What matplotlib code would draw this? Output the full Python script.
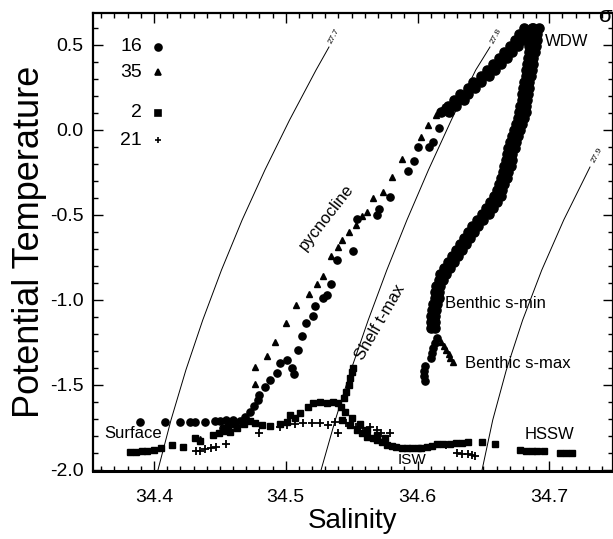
import matplotlib
matplotlib.use("Agg")
import matplotlib.pyplot as plt
from matplotlib.ticker import MultipleLocator, FormatStrFormatter

plt.rcParams['font.family'] = ['Liberation Sans', 'DejaVu Sans']

# --- station 16 (circles): sparse surface / pycnocline points ---------------
s16_S = [34.389, 34.408, 34.420, 34.427, 34.431, 34.439, 34.446, 34.450, 34.455, 34.460,
         34.452, 34.456, 34.461, 34.465, 34.469, 34.473, 34.476, 34.479, 34.480, 34.484,
         34.488, 34.493, 34.496, 34.501, 34.505, 34.506, 34.509, 34.512, 34.515, 34.521,
         34.522, 34.528, 34.531, 34.534, 34.539, 34.551, 34.554, 34.569, 34.571, 34.579,
         34.593, 34.597, 34.600, 34.609, 34.612, 34.616]
s16_T = [-1.718, -1.718, -1.718, -1.718, -1.718, -1.718, -1.712, -1.712, -1.706, -1.706,
         -1.753, -1.741, -1.729, -1.712, -1.688, -1.659, -1.624, -1.588, -1.559, -1.512,
         -1.471, -1.429, -1.371, -1.353, -1.400, -1.435, -1.294, -1.212, -1.135, -1.094,
         -1.035, -0.988, -0.971, -0.906, -0.765, -0.712, -0.524, -0.500, -0.465, -0.394,
         -0.241, -0.182, -0.100, -0.100, -0.071, 0.012]

# station 16: dense WDW loop (edges of the band share the T levels)
loop_T = [0.600, 0.565, 0.529, 0.494, 0.459, 0.424, 0.388, 0.353, 0.318, 0.282,
          0.247, 0.212, 0.176, 0.141, 0.106]
up_S_left = [34.681, 34.677, 34.674, 34.670, 34.666, 34.662, 34.657, 34.653, 34.648, 34.642,
             34.638, 34.632, 34.628, 34.623, 34.618]
up_S_right = [34.687, 34.683, 34.680, 34.676, 34.672, 34.668, 34.663, 34.659, 34.654, 34.648,
              34.644, 34.638, 34.635, 34.629, 34.624]
up_mid_T = [0.582, 0.547, 0.512, 0.476, 0.441, 0.406, 0.371, 0.335, 0.300, 0.265,
            0.229, 0.194, 0.159, 0.124]
up_mid_S = [34.682, 34.679, 34.675, 34.671, 34.667, 34.663, 34.658, 34.653, 34.648, 34.643,
            34.638, 34.634, 34.629, 34.624]
down_T = [0.600, 0.565, 0.529, 0.494, 0.459, 0.424, 0.388, 0.353, 0.318, 0.282,
          0.247, 0.212, 0.176, 0.141, 0.106, 0.071, 0.035, 0.000, -0.035, -0.071,
          -0.106, -0.141, -0.176, -0.212, -0.247, -0.282, -0.318, -0.353, -0.388, -0.424,
          -0.459, -0.494, -0.529, -0.565, -0.600, -0.635, -0.671, -0.706, -0.741, -0.776,
          -0.812, -0.847, -0.882, -0.918, -0.953, -0.988, -1.024, -1.059, -1.094, -1.129,
          -1.165]
down_S_left = [34.688, 34.687, 34.686, 34.685, 34.685, 34.684, 34.683, 34.682, 34.682, 34.681,
               34.680, 34.679, 34.679, 34.678, 34.677, 34.676, 34.675, 34.673, 34.672, 34.670,
               34.669, 34.668, 34.667, 34.666, 34.665, 34.663, 34.662, 34.660, 34.658, 34.655,
               34.652, 34.649, 34.645, 34.641, 34.638, 34.635, 34.632, 34.629, 34.626, 34.623,
               34.620, 34.617, 34.616, 34.614, 34.613, 34.613, 34.612, 34.611, 34.610, 34.610,
               34.610]
down_S_right = [34.692, 34.691, 34.691, 34.690, 34.689, 34.688, 34.688, 34.687, 34.686, 34.685,
                34.685, 34.684, 34.683, 34.682, 34.682, 34.681, 34.679, 34.678, 34.676, 34.675,
                34.674, 34.672, 34.672, 34.671, 34.669, 34.668, 34.666, 34.664, 34.663, 34.660,
                34.657, 34.654, 34.650, 34.646, 34.643, 34.640, 34.637, 34.634, 34.631, 34.628,
                34.625, 34.622, 34.619, 34.617, 34.616, 34.616, 34.615, 34.614, 34.613, 34.613,
                34.613]
# station 16: benthic s-max left leg and deepest blob
deep16_S = [34.615, 34.613, 34.612, 34.611, 34.610, 34.606, 34.605, 34.605, 34.606]
deep16_T = [-1.224, -1.253, -1.282, -1.312, -1.341, -1.388, -1.418, -1.447, -1.476]

# --- station 35 (triangles) -------------------------------------------------
s35_S = [34.435, 34.477, 34.477, 34.486, 34.492, 34.500, 34.508, 34.518, 34.524, 34.528,
         34.534, 34.540, 34.543, 34.548, 34.553, 34.558, 34.562, 34.566, 34.574, 34.581,
         34.588, 34.603, 34.608, 34.614, 34.619, 34.623,
         34.618, 34.620, 34.622, 34.624, 34.625, 34.627]
s35_T = [-1.818, -1.494, -1.394, -1.329, -1.247, -1.135, -1.029, -0.965, -0.906, -0.859,
         -0.741, -0.688, -0.647, -0.600, -0.559, -0.506, -0.482, -0.400, -0.365, -0.276,
         -0.171, -0.041, 0.029, 0.088, 0.135, 0.135,
         -1.247, -1.271, -1.294, -1.318, -1.341, -1.365]

# --- station 2 (squares) ----------------------------------------------------
s2_S = [34.382, 34.386, 34.391, 34.395, 34.400, 34.405, 34.414, 34.422, 34.431, 34.435,
        34.445, 34.449, 34.453, 34.458, 34.463, 34.468, 34.473, 34.477, 34.482, 34.488,
        34.496, 34.501, 34.503, 34.507, 34.511, 34.517, 34.521, 34.526, 34.531, 34.536,
        34.540, 34.542, 34.544, 34.546, 34.548, 34.549, 34.550, 34.551, 34.543, 34.545,
        34.549, 34.550, 34.554, 34.556, 34.558, 34.562, 34.562, 34.566, 34.569, 34.569,
        34.573, 34.575, 34.577, 34.581, 34.584, 34.588, 34.592, 34.596, 34.600, 34.603,
        34.607, 34.611, 34.615, 34.619, 34.625, 34.629, 34.634, 34.638, 34.649, 34.659,
        34.678, 34.682, 34.687, 34.691, 34.696, 34.708, 34.713, 34.717]
s2_T = [-1.894, -1.894, -1.888, -1.888, -1.882, -1.871, -1.853, -1.865, -1.812, -1.829,
        -1.794, -1.782, -1.771, -1.776, -1.753, -1.729, -1.712, -1.724, -1.735, -1.741,
        -1.729, -1.718, -1.676, -1.694, -1.665, -1.629, -1.606, -1.600, -1.606, -1.600,
        -1.606, -1.629, -1.576, -1.541, -1.500, -1.459, -1.424, -1.400, -1.706, -1.659,
        -1.735, -1.694, -1.765, -1.729, -1.782, -1.765, -1.806, -1.812, -1.794, -1.824,
        -1.835, -1.812, -1.853, -1.859, -1.865, -1.871, -1.871, -1.871, -1.871, -1.871,
        -1.865, -1.859, -1.847, -1.847, -1.847, -1.841, -1.841, -1.835, -1.835, -1.847,
        -1.882, -1.888, -1.888, -1.888, -1.888, -1.900, -1.900, -1.900]

# --- station 21 (plus) ------------------------------------------------------
s21_S = [34.432, 34.435, 34.439, 34.443, 34.447, 34.455, 34.480, 34.496, 34.501, 34.507,
         34.513, 34.520, 34.526, 34.532, 34.537, 34.540, 34.546, 34.553, 34.559, 34.564,
         34.569, 34.572, 34.579, 34.622, 34.630, 34.634, 34.638, 34.641, 34.644]
s21_T = [-1.888, -1.888, -1.876, -1.871, -1.865, -1.847, -1.782, -1.747, -1.735, -1.729,
         -1.724, -1.724, -1.724, -1.735, -1.718, -1.782, -1.724, -1.747, -1.753, -1.747,
         -1.765, -1.782, -1.782, -1.853, -1.900, -1.906, -1.906, -1.912, -1.918]

# --- isopycnals (sigma-theta) -----------------------------------------------
iso_277_S = [34.4030, 34.4129, 34.4242, 34.4370, 34.4512, 34.4669, 34.4842, 34.5029, 34.5230, 34.5328]
iso_277_T = [-2.000, -1.706, -1.412, -1.118, -0.824, -0.529, -0.235, 0.059, 0.353, 0.488]
iso_278_S = [34.5268, 34.5376, 34.5495, 34.5626, 34.5767, 34.5920, 34.6083, 34.6257, 34.6442, 34.6550]
iso_278_T = [-2.000, -1.706, -1.412, -1.118, -0.824, -0.529, -0.235, 0.059, 0.353, 0.488]
iso_279_S = [34.6490, 34.6571, 34.6674, 34.6798, 34.6943, 34.7110, 34.7309]
iso_279_T = [-2.000, -1.706, -1.412, -1.118, -0.824, -0.529, -0.218]

stations = ["16", "35", "2", "21"]

fig = plt.figure(figsize=(6.13, 5.39), dpi=100)
ax = fig.add_axes([93 / 613, 68.5 / 539, 519.5 / 613, 457.8 / 539])

for S, T in [(iso_277_S, iso_277_T), (iso_278_S, iso_278_T), (iso_279_S, iso_279_T)]:
    ax.plot(S, T, color="black", lw=0.7, zorder=1)
ax.text(34.537, 0.555, "27.7", fontsize=6, rotation=62, ha="center", va="center")
ax.text(34.660, 0.555, "27.8", fontsize=6, rotation=62, ha="center", va="center")
ax.text(34.736, -0.150, "27.9", fontsize=6, rotation=62, ha="center", va="center")

kw_c = dict(ls="none", marker="o", ms=5.2, color="black", mec="black", zorder=3)
kw_band = dict(kw_c, ms=6.6)
ax.plot(s16_S, s16_T, **kw_c)
ax.plot(up_S_left, loop_T, **kw_band)
ax.plot(up_S_right, loop_T, **kw_band)
ax.plot(up_mid_S, up_mid_T, **kw_band)
ax.plot(down_S_left, down_T, **kw_band)
ax.plot(down_S_right, down_T, **kw_band)
ax.plot(deep16_S, deep16_T, **kw_c)
ax.plot(s35_S, s35_T, ls="none", marker="^", ms=5, color="black", zorder=3)
ax.plot(s2_S, s2_T, ls="none", marker="s", ms=4.6, color="black", zorder=3)
ax.plot(s21_S, s21_T, ls="none", marker="+", ms=5.5, mew=1.3, color="black", zorder=3)

# legend drawn as in the original (numbers + symbols, top-left)
leg_T = [0.490, 0.340, 0.100, -0.060]
leg_marker = ["o", "^", "s", "+"]
for lab, t, m in zip(stations, leg_T, leg_marker):
    ax.text(34.391, t, lab, fontsize=14, ha="right", va="center")
    ax.plot([34.403], [t], marker=m, ms=5 if m != "s" else 4.6, mew=1.2,
            color="black", ls="none")

# water-mass annotations
ax.text(34.697, 0.518, "WDW", fontsize=12, ha="left", va="center")
ax.text(34.531, -0.512, "pycnocline", fontsize=12, rotation=52, ha="center", va="center")
ax.text(34.572, -1.129, "Shelf t-max", fontsize=12, rotation=60, ha="center", va="center")
ax.text(34.621, -1.018, "Benthic s-min", fontsize=12, ha="left", va="center")
ax.text(34.636, -1.371, "Benthic s-max", fontsize=12, ha="left", va="center")
ax.text(34.384, -1.788, "Surface", fontsize=12, ha="center", va="center")
ax.text(34.596, -1.941, "ISW", fontsize=11, ha="center", va="center")
ax.text(34.700, -1.794, "HSSW", fontsize=12, ha="center", va="center")
ax.text(34.742, 0.665, "σ", fontsize=16, ha="center", va="center")

ax.set_xlim(34.3537, 34.748)
ax.set_ylim(-2.003, 0.69)
ax.xaxis.set_major_locator(MultipleLocator(0.1))
ax.xaxis.set_minor_locator(MultipleLocator(0.01))
ax.yaxis.set_major_locator(MultipleLocator(0.5))
ax.yaxis.set_minor_locator(MultipleLocator(0.1))
ax.tick_params(which="both", direction="in", top=True, right=True, width=1.0)
ax.tick_params(which="major", length=7, labelsize=14)
ax.tick_params(which="minor", length=3.5)
ax.tick_params(axis="x", pad=13)
ax.tick_params(axis="y", pad=7)
ax.xaxis.set_major_formatter(FormatStrFormatter("%.1f"))
ax.yaxis.set_major_formatter(FormatStrFormatter("%.1f"))
for sp in ax.spines.values():
    sp.set_linewidth(1.6)
ax.spines["bottom"].set_linewidth(2.2)

ax.set_xlabel("Salinity", fontsize=20, labelpad=2)
ax.set_ylabel("Potential Temperature", fontsize=26, labelpad=2)

fig.savefig("out.png", dpi=100)
